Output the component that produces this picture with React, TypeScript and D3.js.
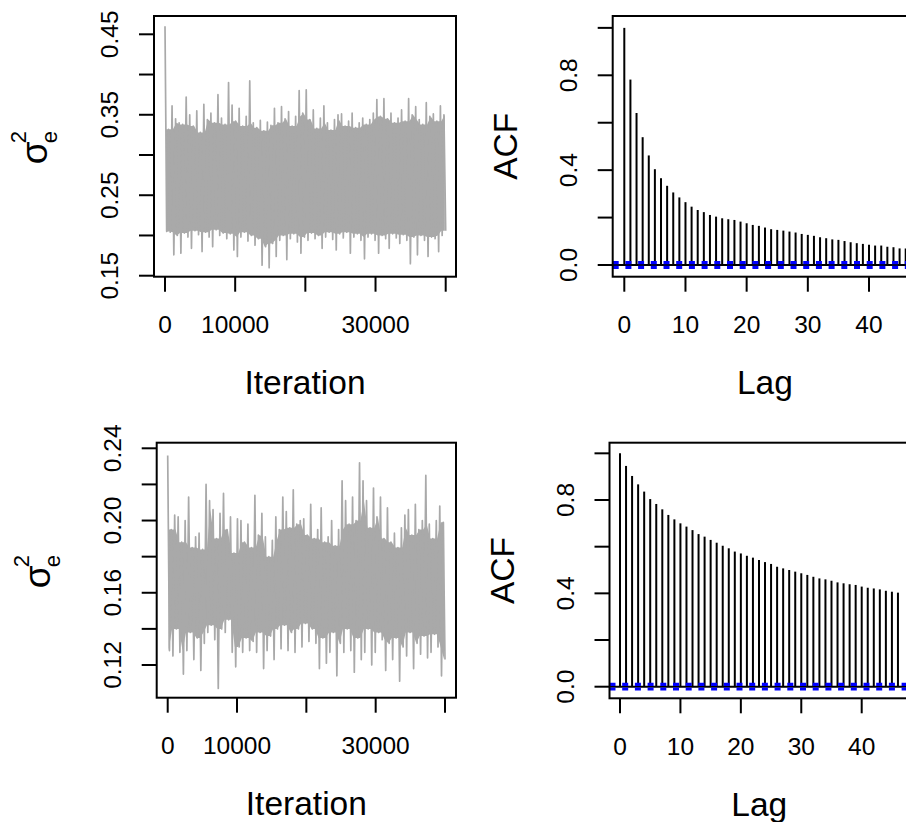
import * as d3 from "d3";

const traceTop = [
  0.460, 0.205, 0.332, 0.204, 0.361, 0.176, 0.345, 0.200, 0.340, 0.178,
  0.338, 0.203, 0.372, 0.198, 0.350, 0.184, 0.336, 0.206, 0.355, 0.201,
  0.328, 0.180, 0.363, 0.204, 0.344, 0.198, 0.352, 0.186, 0.340, 0.207,
  0.375, 0.200, 0.346, 0.203, 0.338, 0.196, 0.390, 0.202, 0.362, 0.182,
  0.342, 0.174, 0.358, 0.198, 0.336, 0.204, 0.348, 0.193, 0.392, 0.200,
  0.340, 0.188, 0.334, 0.196, 0.343, 0.163, 0.330, 0.186, 0.341, 0.160,
  0.337, 0.190, 0.358, 0.174, 0.340, 0.194, 0.360, 0.200, 0.345, 0.170,
  0.354, 0.196, 0.336, 0.202, 0.348, 0.192, 0.380, 0.178, 0.352, 0.198,
  0.381, 0.194, 0.344, 0.203, 0.356, 0.196, 0.333, 0.200, 0.346, 0.184,
  0.361, 0.198, 0.340, 0.204, 0.331, 0.195, 0.344, 0.182, 0.350, 0.202,
  0.351, 0.197, 0.336, 0.204, 0.342, 0.178, 0.352, 0.198, 0.334, 0.202,
  0.340, 0.194, 0.346, 0.171, 0.338, 0.198, 0.344, 0.202, 0.352, 0.194,
  0.369, 0.178, 0.348, 0.200, 0.370, 0.196, 0.345, 0.184, 0.352, 0.202,
  0.340, 0.197, 0.346, 0.190, 0.356, 0.201, 0.342, 0.194, 0.370, 0.165,
  0.350, 0.198, 0.360, 0.176, 0.344, 0.200, 0.338, 0.194, 0.365, 0.174,
  0.348, 0.198, 0.351, 0.196, 0.342, 0.180, 0.361, 0.200, 0.350, 0.206,
];

const traceBottom = [
  0.236, 0.128, 0.195, 0.125, 0.203, 0.140, 0.202, 0.127, 0.188, 0.115,
  0.200, 0.128, 0.213, 0.138, 0.185, 0.123, 0.191, 0.135, 0.193, 0.117,
  0.184, 0.132, 0.220, 0.138, 0.211, 0.142, 0.206, 0.134, 0.190, 0.107,
  0.204, 0.140, 0.215, 0.138, 0.195, 0.145, 0.202, 0.127, 0.182, 0.119,
  0.201, 0.130, 0.200, 0.127, 0.188, 0.135, 0.198, 0.128, 0.185, 0.133,
  0.214, 0.127, 0.192, 0.138, 0.204, 0.118, 0.191, 0.128, 0.180, 0.136,
  0.189, 0.123, 0.202, 0.140, 0.195, 0.129, 0.213, 0.142, 0.205, 0.128,
  0.196, 0.138, 0.217, 0.127, 0.198, 0.140, 0.200, 0.130, 0.201, 0.143,
  0.192, 0.133, 0.209, 0.140, 0.190, 0.132, 0.195, 0.118, 0.207, 0.135,
  0.188, 0.121, 0.191, 0.127, 0.200, 0.138, 0.186, 0.114, 0.195, 0.132,
  0.222, 0.127, 0.211, 0.140, 0.198, 0.128, 0.213, 0.116, 0.200, 0.135,
  0.232, 0.123, 0.222, 0.127, 0.211, 0.140, 0.196, 0.120, 0.218, 0.127,
  0.202, 0.138, 0.213, 0.134, 0.190, 0.117, 0.207, 0.132, 0.188, 0.123,
  0.193, 0.135, 0.185, 0.111, 0.196, 0.130, 0.203, 0.125, 0.206, 0.138,
  0.192, 0.118, 0.209, 0.132, 0.195, 0.126, 0.200, 0.136, 0.225, 0.124,
  0.198, 0.127, 0.190, 0.137, 0.200, 0.130, 0.208, 0.114, 0.199, 0.123,
];

// autocorrelation by lag 0..46
const acfTop = [
  1.0, 0.782, 0.641, 0.539, 0.462, 0.404, 0.366, 0.334, 0.306, 0.285,
  0.265, 0.246, 0.232, 0.223, 0.211, 0.204, 0.197, 0.193, 0.19, 0.183,
  0.176, 0.169, 0.165, 0.158, 0.151, 0.148, 0.145, 0.141, 0.137, 0.131,
  0.127, 0.123, 0.117, 0.113, 0.108, 0.106, 0.101, 0.096, 0.092, 0.089,
  0.085, 0.082, 0.082, 0.077, 0.075, 0.07, 0.07,
];

const acfBottom = [
  1.0, 0.946, 0.903, 0.867, 0.836, 0.804, 0.783, 0.76, 0.736, 0.717,
  0.7, 0.686, 0.671, 0.654, 0.643, 0.629, 0.617, 0.604, 0.593, 0.579,
  0.571, 0.561, 0.553, 0.543, 0.534, 0.526, 0.514, 0.507, 0.5, 0.493,
  0.486, 0.479, 0.471, 0.464, 0.46, 0.454, 0.447, 0.443, 0.439, 0.436,
  0.429, 0.424, 0.421, 0.417, 0.411, 0.407, 0.403,
];

const nIter = 40000;
const iterTicks = [0, 10000, 20000, 30000, 40000];
const iterLabels = ["0", "10000", "", "30000", ""];
const lagTicks = [0, 10, 20, 30, 40];
const lagLabels = ["0", "10", "20", "30", "40"];
const topYTicks = [0.15, 0.2, 0.25, 0.3, 0.35, 0.4, 0.45];
const topYLabels = ["0.15", "", "0.25", "", "0.35", "", "0.45"];
const botYTicks = [0.12, 0.14, 0.16, 0.18, 0.2, 0.22, 0.24];
const botYLabels = ["0.12", "", "0.16", "", "0.20", "", "0.24"];
const acfYTicks = [0, 0.2, 0.4, 0.6, 0.8, 1.0];
const acfYLabels = ["0.0", "", "0.4", "", "0.8", ""];

const FONT = "'Liberation Sans', Arial, Helvetica, sans-serif";
const TICK = 15;
const TICK_FS = 24.5;
const LAB_FS = 33.5;
const GREY = "#a9a9a9";

type Box = { l: number; r: number; t: number; b: number };
type Lin = d3.ScaleLinear<number, number>;

const Frame = ({
  box, x, y, xt, xl, yt, yl, xTitle,
}: {
  box: Box; x: Lin; y: Lin; xt: number[]; xl: string[]; yt: number[]; yl: string[]; xTitle: string;
}) => (
  <g>
    <rect x={box.l} y={box.t} width={box.r - box.l} height={box.b - box.t}
      fill="none" stroke="#000" strokeWidth={2} />
    {xt.map((v, i) => (
      <g key={"x" + i}>
        <line x1={x(v)} x2={x(v)} y1={box.b} y2={box.b + TICK} stroke="#000" strokeWidth={2} />
        {xl[i] && (
          <text x={x(v)} y={box.b + 56.5} textAnchor="middle" fontSize={TICK_FS}>{xl[i]}</text>
        )}
      </g>
    ))}
    {yt.map((v, i) => (
      <g key={"y" + i}>
        <line x1={box.l - TICK} x2={box.l} y1={y(v)} y2={y(v)} stroke="#000" strokeWidth={2} />
        {yl[i] && (
          <text transform={`translate(${box.l - 36},${y(v)}) rotate(-90)`} textAnchor="middle"
            fontSize={TICK_FS}>{yl[i]}</text>
        )}
      </g>
    ))}
    <text x={(box.l + box.r) / 2} y={box.b + 117.5} textAnchor="middle" fontSize={LAB_FS}>{xTitle}</text>
  </g>
);

const TracePanel = ({ data, box, x, y, yt, yl }: {
  data: number[]; box: Box; x: Lin; y: Lin; yt: number[]; yl: string[];
}) => {
  const xi = (i: number) => x((i * nIter) / (data.length - 1));
  const line = d3.line<number>().x((_, i) => xi(i)).y((d) => y(d));

  // dense part of the trace: where neighbouring swings all overlap
  const pairs = d3.range(data.length / 2);
  const hi = (k: number) => data[2 * Math.max(0, Math.min(pairs.length - 1, k))];
  const lo = (k: number) => data[2 * Math.max(0, Math.min(pairs.length - 1, k)) + 1];
  const core = d3.area<number>()
    .x((k) => xi(2 * k + 0.5))
    .y0((k) => y(Math.max(lo(k - 1), lo(k), lo(k + 1))))
    .y1((k) => y(Math.min(hi(k - 1), hi(k), hi(k + 1))));

  const cy = (box.t + box.b) / 2;
  return (
    <g>
      <path d={core(pairs)!} fill={GREY} />
      <path d={line(data)!} fill="none" stroke={GREY} strokeWidth={1.7} strokeLinejoin="round" />
      <Frame box={box} x={x} y={y} xt={iterTicks} xl={iterLabels} yt={yt} yl={yl} xTitle="Iteration" />
      <g transform={`translate(${box.l - 107},${cy}) rotate(-90)`}>
        <text x={-18} y={0} fontSize={37}>σ</text>
        <text x={3} y={-21} fontSize={22}>2</text>
        <text x={3} y={10} fontSize={22}>e</text>
      </g>
    </g>
  );
};

const AcfPanel = ({ data, box, x, y }: { data: number[]; box: Box; x: Lin; y: Lin }) => {
  const ci = 1.96 / Math.sqrt(nIter);
  const cy = (box.t + box.b) / 2;
  return (
    <g>
      {data.map((v, lag) => (
        <line key={lag} x1={x(lag)} x2={x(lag)} y1={y(0)} y2={y(v)} stroke="#000" strokeWidth={2} />
      ))}
      <line x1={box.l} x2={box.r} y1={y(0)} y2={y(0)} stroke="#000" strokeWidth={2} />
      {[ci, -ci].map((c) => (
        <line key={c} x1={box.l} x2={box.r} y1={y(c)} y2={y(c)} stroke="#0000ff"
          strokeWidth={3.2} strokeDasharray="6 6.7" />
      ))}
      <Frame box={box} x={x} y={y} xt={lagTicks} xl={lagLabels} yt={acfYTicks} yl={acfYLabels} xTitle="Lag" />
      <text transform={`translate(${box.l - 95.7},${cy}) rotate(-90)`} textAnchor="middle"
        fontSize={LAB_FS}>ACF</text>
    </g>
  );
};

export default function App() {
  const boxTL = { l: 154, r: 456, t: 16, b: 276.7 };
  const boxBL = { l: 156.7, r: 456, t: 442.7, b: 697.7 };
  const boxTR = { l: 612.7, r: 917, t: 16, b: 276.7 };
  const boxBR = { l: 609.5, r: 909, t: 442.7, b: 698.3 };

  const xTL = d3.scaleLinear().domain([0, 40000]).range([165, 445.7]);
  const yTL = d3.scaleLinear().domain([0.15, 0.45]).range([275.7, 34.3]);
  const xBL = d3.scaleLinear().domain([0, 40000]).range([167.7, 445]);
  const yBL = d3.scaleLinear().domain([0.12, 0.24]).range([665, 448.3]);
  const xTR = d3.scaleLinear().domain([0, 40]).range([624.3, 869]);
  const yTR = d3.scaleLinear().domain([0, 0.8]).range([265, 75.3]);
  const xBR = d3.scaleLinear().domain([0, 40]).range([620, 861.7]);
  const yBR = d3.scaleLinear().domain([0, 0.8]).range([686.7, 500]);

  return (
    <svg width={906} height={822} style={{ position: "absolute", left: 0, top: 0, background: "#fff" }}
      fontFamily={FONT}>
      <rect width={906} height={822} fill="#fff" />
      <TracePanel data={traceTop} box={boxTL} x={xTL} y={yTL} yt={topYTicks} yl={topYLabels} />
      <AcfPanel data={acfTop} box={boxTR} x={xTR} y={yTR} />
      <TracePanel data={traceBottom} box={boxBL} x={xBL} y={yBL} yt={botYTicks} yl={botYLabels} />
      <AcfPanel data={acfBottom} box={boxBR} x={xBR} y={yBR} />
    </svg>
  );
}
